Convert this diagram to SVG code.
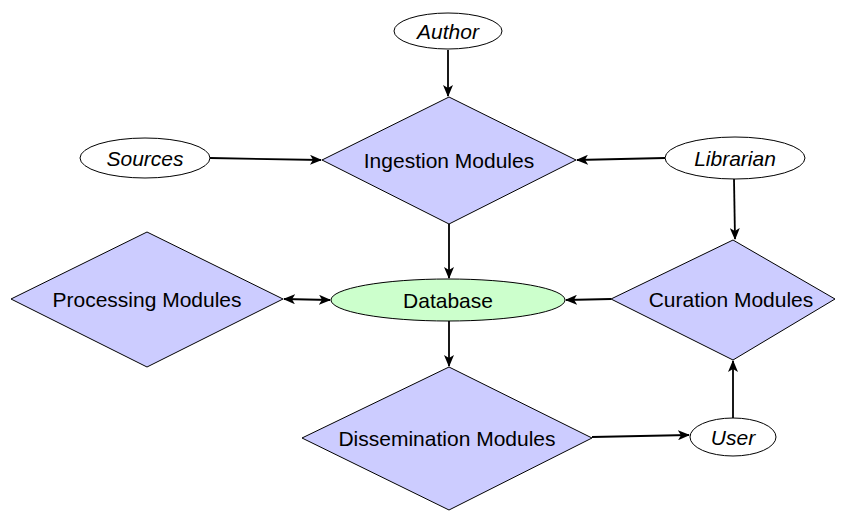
<svg xmlns="http://www.w3.org/2000/svg" width="850" height="512" viewBox="0 0 850 512">
<style>
.dia{fill:#ccccff;stroke:#000;stroke-width:1}
.ell{fill:#fff;stroke:#000;stroke-width:1}
.db{fill:#ccffcc;stroke:#000;stroke-width:1}
.lbl{font-family:"Liberation Sans",Arial,sans-serif;font-size:21px;fill:#000;text-anchor:middle;dominant-baseline:central}
.it{font-style:italic}
.edge{fill:none;stroke:#000;stroke-width:1.8;marker-end:url(#ah)}
</style>
<defs>
<marker id="ah" viewBox="0 -5 12 10" refX="11" refY="0" markerWidth="12" markerHeight="10" markerUnits="userSpaceOnUse" orient="auto-start-reverse">
<path d="M0,-5 L12,0 L0,5 L3,0 Z" fill="#000"/>
</marker>
</defs>
<rect width="850" height="512" fill="#fff"/>
<g id="connectors">
<line class="edge" x1="448" y1="50" x2="448" y2="96"/>
<line class="edge" x1="210" y1="158" x2="321" y2="160"/>
<line class="edge" x1="665" y1="158" x2="577" y2="160"/>
<line class="edge" x1="734" y1="179" x2="735" y2="239"/>
<line class="edge" x1="449" y1="224" x2="449" y2="278"/>
<line class="edge" x1="284" y1="299" x2="330" y2="300" style="marker-start:url(#ah)"/>
<line class="edge" x1="611" y1="299" x2="566" y2="300"/>
<line class="edge" x1="449" y1="321" x2="449" y2="366"/>
<line class="edge" x1="592" y1="437" x2="689" y2="435"/>
<line class="edge" x1="733" y1="418" x2="733" y2="361"/>
</g>
<g id="author"><ellipse class="ell" cx="448" cy="31" rx="54" ry="18"/><text class="lbl it" x="448" y="31">Author</text></g>
<g id="sources"><ellipse class="ell" cx="145" cy="158" rx="65" ry="20"/><text class="lbl it" x="145" y="158">Sources</text></g>
<g id="librarian"><ellipse class="ell" cx="735" cy="158" rx="70" ry="21"/><text class="lbl it" x="735" y="158">Librarian</text></g>
<g id="user"><ellipse class="ell" cx="733" cy="437" rx="43" ry="19"/><text class="lbl it" x="733" y="437">User</text></g>
<g id="ingestion"><polygon class="dia" points="449,97 576,160 449,224 322,160"/><text class="lbl" x="449" y="160">Ingestion Modules</text></g>
<g id="processing"><polygon class="dia" points="147,232 283,299 147,367 11,299"/><text class="lbl" x="147" y="299">Processing Modules</text></g>
<g id="database"><ellipse class="db" cx="448" cy="300" rx="117" ry="21"/><text class="lbl" x="448" y="300">Database</text></g>
<g id="curation"><polygon class="dia" points="733,240 835,299 733,360 611,299"/><text class="lbl" x="731" y="299">Curation Modules</text></g>
<g id="dissemination"><polygon class="dia" points="449,367 592,438 449,510 302,438"/><text class="lbl" x="447" y="438">Dissemination Modules</text></g>
</svg>
